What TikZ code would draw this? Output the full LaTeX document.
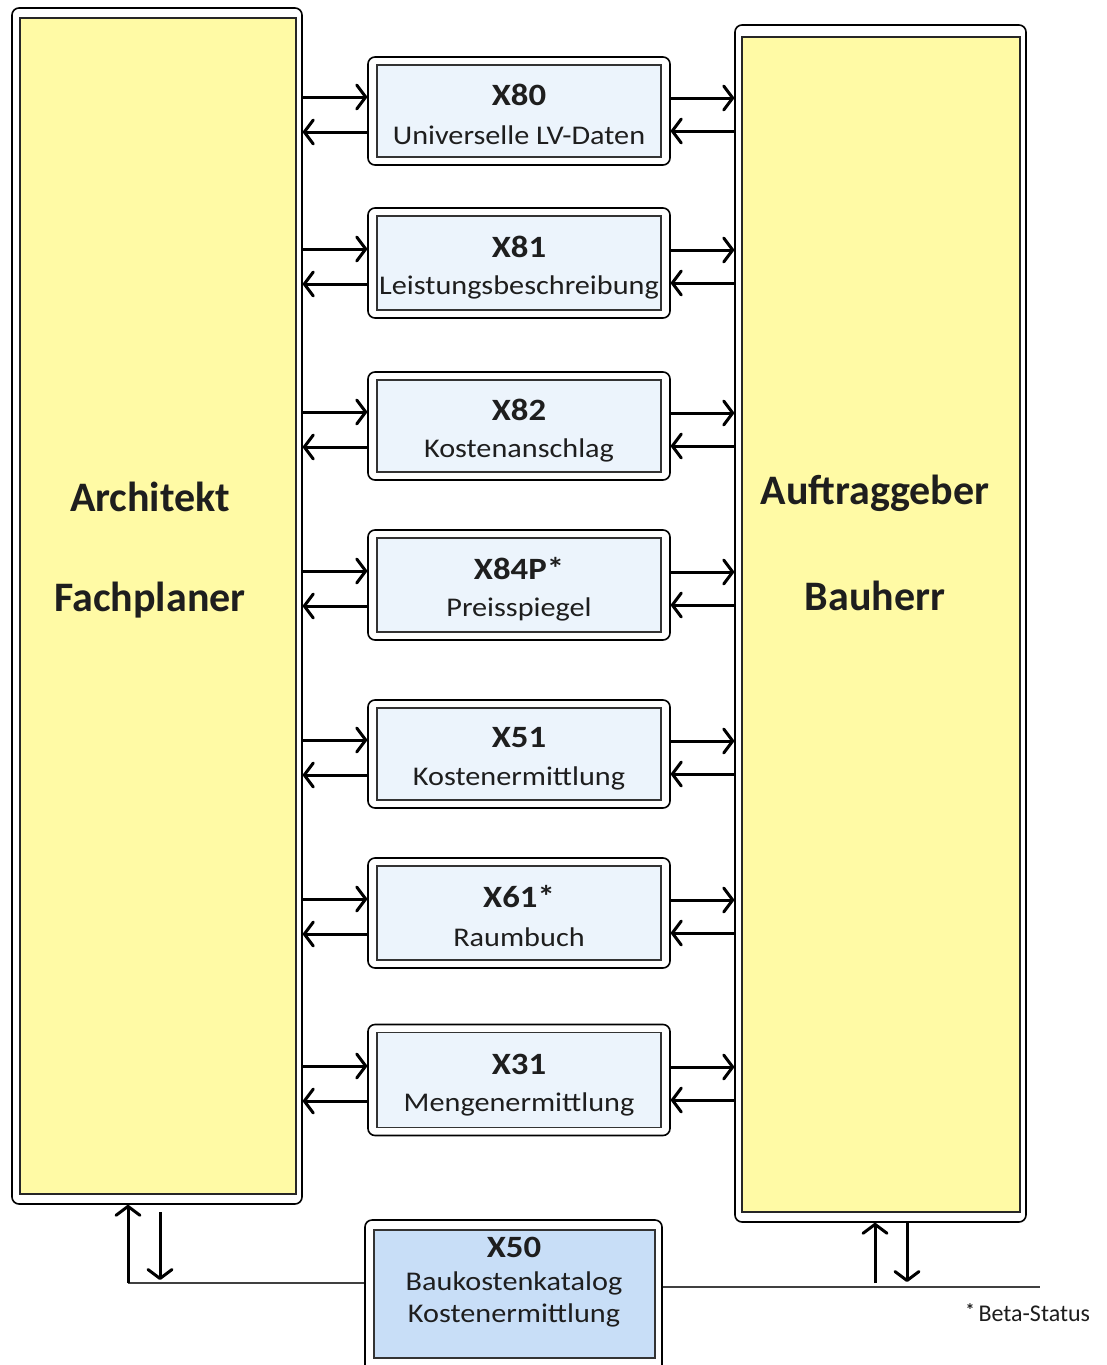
\documentclass[tikz,border=0pt]{standalone}
\usepackage{fontspec}
\setmainfont{Carlito}
\usetikzlibrary{arrows.meta}
\definecolor{yel}{RGB}{255,250,165}
\definecolor{lb}{RGB}{236,244,252}
\definecolor{db}{RGB}{200,222,247}
\definecolor{txt}{RGB}{30,30,30}
\newcommand{\wide}[1]{\scalebox{1.12}[1]{#1}}
\begin{document}
\begin{tikzpicture}[x=1pt,y=-1pt,
  outerc/.style={draw=black,line width=1.6pt,rounded corners=7pt,fill=white,minimum width=#1},
  innerc/.style={draw=black!80,line width=1.6pt,fill=lb,minimum width=#1},
  col/.style={draw=black!85,line width=1.8pt,fill=yel,inner sep=0pt},
  colout/.style={draw=black,line width=1.6pt,rounded corners=7pt,fill=white,inner sep=0pt},
  ttl/.style={font=\fontsize{31}{31}\selectfont\bfseries,text=txt},
  sub/.style={font=\fontsize{27}{27}\selectfont,text=txt},
  big/.style={font=\fontsize{42}{42}\selectfont\bfseries,text=txt},
  arr/.style={line width=3pt,-{Straight Barb[length=9pt,width=24pt,line cap=round,line join=round]}},
  hline/.style={line width=1.2pt,draw=black!75}
]
\clip (0,0) rectangle (1107,1365);
\fill[white] (0,0) rectangle (1107,1365);

% left column
\node[colout,minimum width=290pt,minimum height=1196pt] (Lo) at (157,606) {};
\node[col,minimum width=276pt,minimum height=1176pt] (L) at (158,606) {};
\node[big] (La) at (150,497) {Architekt};
\node[big] (Lb) at (150,600) {Fachplaner};

% right column
\node[colout,minimum width=291pt,minimum height=1197pt] (Ro) at (880.5,623.5) {};
\node[col,minimum width=278pt,minimum height=1175pt] (R) at (881,624.5) {};
\node[big] (Ra) at (875,493) {Auftraggeber};
\node[big] (Rb) at (875,596) {Bauherr};

% central modules
\foreach \n/\cy/\h/\t/\s in {
  X80/111/108/X80/Universelle LV-Daten,
  X81/263/110/X81/Leistungsbeschreibung,
  X82/426/108/X82/Kostenanschlag,
  X84P/585/110/X84P*/Preisspiegel,
  X51/754/108/X51/Kostenermittlung,
  X61/913/110/X61*/Raumbuch,
  X31/1080/111/X31/Mengenermittlung}{
  \node[outerc=302pt,minimum height=\h pt] (\n o) at (519,\cy) {};
  \node[innerc=284pt,minimum height=\h pt-16pt] (\n i) at (519,\cy) {};
  \node[ttl] (\n t) at (519,\cy-16) {\wide{\t}};
  \node[sub] (\n s) at (519,\cy+24) {\wide{\s}};
  \draw[arr] ([yshift=14pt]\n o.west -| Lo.east) -- ([yshift=14pt]\n o.west);
  \draw[arr] ([yshift=-21pt]\n o.west) -- ([yshift=-21pt]\n o.west -| Lo.east);
  \draw[arr] ([yshift=13pt]\n o.east) -- ([yshift=13pt]\n o.east -| Ro.west);
  \draw[arr] ([yshift=-20pt]\n o.east -| Ro.west) -- ([yshift=-20pt]\n o.east);
}

% X50
\node[draw=black,line width=1.6pt,rounded corners=7pt,fill=white,minimum width=297pt,minimum height=160pt] (X50o) at (513.5,1300) {};
\node[draw=black!80,line width=1.6pt,fill=db,minimum width=281pt,minimum height=128pt] (X50i) at (514.5,1294) {};
\node[ttl] (X50t) at (514,1247) {\wide{X50}};
\node[sub] (X50a) at (514,1283) {\wide{Baukostenkatalog}};
\node[sub] (X50b) at (514,1315) {\wide{Kostenermittlung}};

% bottom connections
\coordinate (bl) at (128,1283);
\coordinate (bl2) at (160,1212);
\coordinate (bl3) at (160,1280);
\coordinate (br) at (1040,1287);
\coordinate (br1) at (875,1283);
\coordinate (br2) at (907,1222);
\coordinate (br3) at (907,1282);
\draw[hline] (bl) -- (bl -| X50o.west);
\draw[hline] (br -| X50o.east) -- (br);
\draw[arr] (bl) -- (bl |- Lo.south);
\draw[arr] (bl2) -- (bl3);
\draw[arr] (br1) -- (br1 |- Ro.south);
\draw[arr] (br2) -- (br3);

\node[font=\fontsize{24}{24}\selectfont,text=txt,anchor=west] (beta) at (962,1313) {\raisebox{5pt}{\fontsize{18}{18}\selectfont\bfseries *}\,Beta-Status};
\end{tikzpicture}
\end{document}
